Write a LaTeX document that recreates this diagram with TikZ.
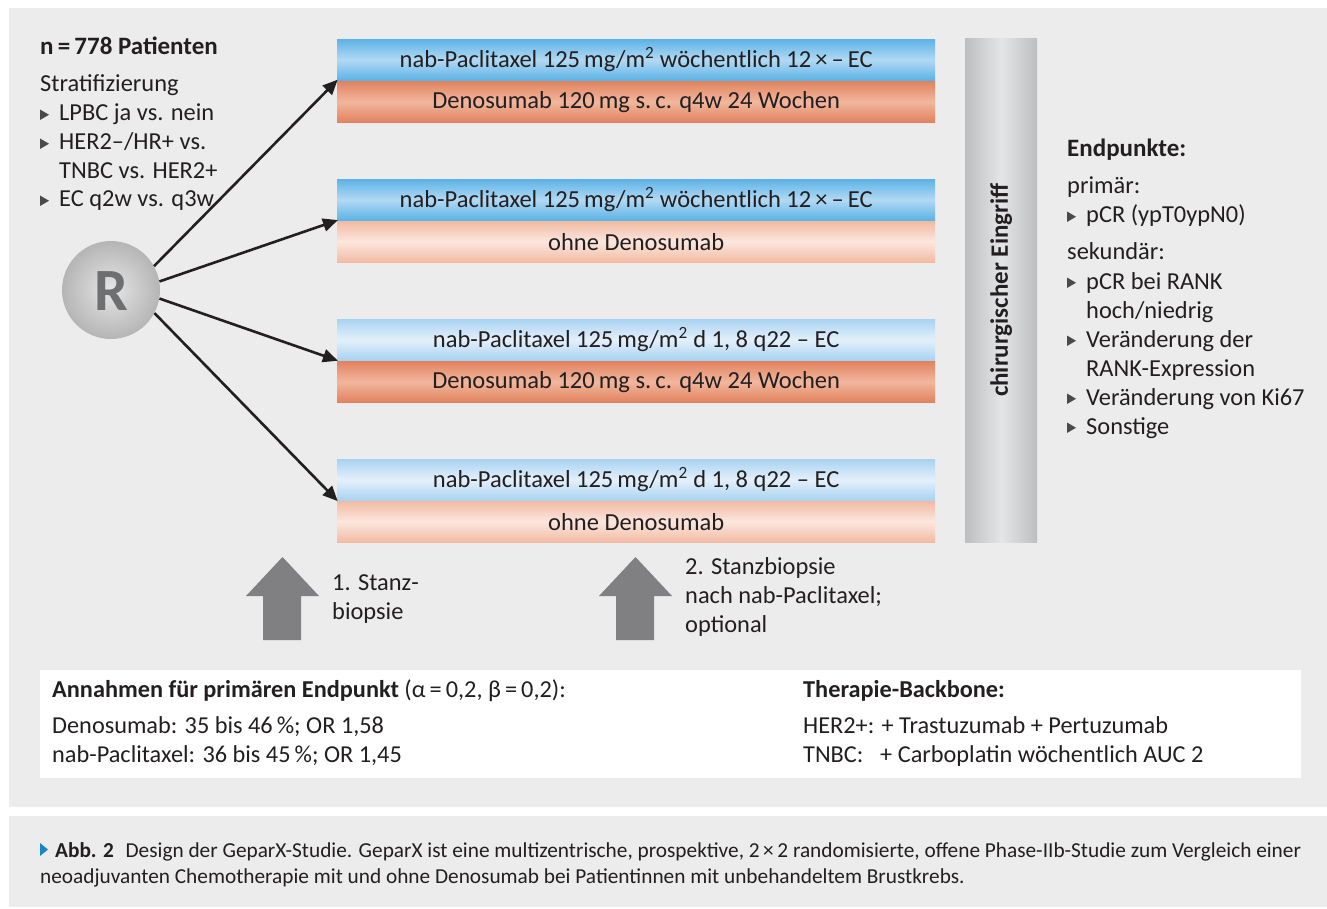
\documentclass[tikz,border=0pt]{standalone}
\usepackage{fontspec}
\setmainfont{Carlito}
\usetikzlibrary{arrows.meta}
\definecolor{bg}{HTML}{EBECEB}
\definecolor{txt}{HTML}{231F20}
\definecolor{bul}{HTML}{4A4A4C}
\definecolor{blueA}{HTML}{5CB3E7}
\definecolor{blueB}{HTML}{B2D9F3}
\definecolor{lblueA}{HTML}{A8D3F1}
\definecolor{lblueB}{HTML}{E4F0FB}
\definecolor{salA}{HTML}{E2825E}
\definecolor{salB}{HTML}{F1B79E}
\definecolor{lsalA}{HTML}{F2BAA2}
\definecolor{lsalB}{HTML}{FBE7DE}
\definecolor{pilA}{HTML}{BDBEC0}
\definecolor{pilB}{HTML}{E4E5E6}
\definecolor{agray}{HTML}{808083}
\definecolor{capblue}{HTML}{1A86C8}
\definecolor{rgray}{HTML}{6E6F71}
\newcommand\fsz[1]{\fontsize{#1}{#1}\selectfont}
\tikzset{
  bar/.style={minimum width=598pt, minimum height=41pt, anchor=north west, inner sep=0pt, font=\fsz{24.5}, text=txt},
  dblue/.style={bar, top color=blueA, bottom color=blueA, middle color=blueB},
  lblue/.style={bar, top color=lblueA, bottom color=lblueA, middle color=lblueB},
  dsal/.style={bar, top color=salA, bottom color=salA, middle color=salB},
  lsal/.style={bar, top color=lsalA, bottom color=lsalA, middle color=lsalB},
  conn/.style={line width=2.6pt, draw=txt, -{Triangle[length=15pt,width=13pt]}, shorten >=-1pt},
  tl/.style={anchor=base west, inner sep=0pt, font=\fsz{24.4}, text=txt},
  tlb/.style={tl, font=\bfseries\fsz{25}},
  bx/.style={anchor=base west, inner sep=0pt, font=\fsz{24.3}, text=txt},
  captxt/.style={anchor=base west, inner sep=0pt, font=\fsz{21.3}, text=txt},
}
\newcommand\bulmark[2]{\fill[bul] (#1,#2-11.5) -- (#1,#2-1) -- (#1+9,#2-6.25) -- cycle;}
\begin{document}
\begin{tikzpicture}[x=1pt,y=-1pt]
\useasboundingbox (0,0) rectangle (1327,909);
\fill[white] (0,0) rectangle (1327,909);
\fill[bg] (9,8) rectangle (1327,807);
\fill[bg] (9,816) rectangle (1327,907);
\fill[white] (40,670) rectangle (1301,778);

% treatment bars
\node[dblue] (b1) at (337,39) {nab-Paclitaxel 125\,mg/m\textsuperscript{2} wöchentlich 12\,×\,–\,EC};
\node[dsal]  (c1) at (337,81) {Denosumab 120\,mg s.\,c. q4w 24 Wochen};
\node[dblue] (b2) at (337,179) {nab-Paclitaxel 125\,mg/m\textsuperscript{2} wöchentlich 12\,×\,–\,EC};
\node[lsal]  (c2) at (337,221) {ohne Denosumab};
\node[lblue] (b3) at (337,319) {nab-Paclitaxel 125\,mg/m\textsuperscript{2} d 1, 8 q22 – EC};
\node[dsal]  (c3) at (337,361) {Denosumab 120\,mg s.\,c. q4w 24 Wochen};
\node[lblue] (b4) at (337,459) {nab-Paclitaxel 125\,mg/m\textsuperscript{2} d 1, 8 q22 – EC};
\node[lsal]  (c4) at (337,501) {ohne Denosumab};

% surgery pillar
\node[minimum width=72pt, minimum height=504pt, anchor=north west, inner sep=0pt,
      left color=pilA, right color=pilA, middle color=pilB] (pil) at (965,38) {};
\node[rotate=90, font=\bfseries\fsz{25}, text=txt, inner sep=0pt] (chir) at (pil.center) {chirurgischer Eingriff};

% randomisation
\node[circle, minimum size=98pt, inner sep=0pt, inner color=gray!20, outer color=gray!58] (R) at (111,290) {};
\node[font=\bfseries\fsz{60}, text=rgray, inner sep=0pt] (Rl) at ([yshift=-1pt]R.center) {R};
\draw[conn] (R.29) -- (b1.south west);
\draw[conn] (R.10) -- (b2.south west);
\draw[conn] (R.-10) -- (b3.south west);
\draw[conn] (R.-28) -- (b4.south west);

% left text
\node[tlb] (np) at (40,55) {n\,=\,778 Patienten};
\node[tl] (st) at (40,92) {Stratifizierung};
\bulmark{40}{121}\node[tl] (s1) at (59,121) {LPBC ja vs. nein};
\bulmark{40}{150}\node[tl] (s2) at (59,150) {HER2–/HR+ vs.};
\node[tl] (s2b) at (59,179) {TNBC vs. HER2+};
\bulmark{40}{207}\node[tl] (s3) at (59,207) {EC q2w vs. q3w};

% endpoints
\node[tlb] (ep) at (1067,157) {Endpunkte:};
\node[tl] (pr) at (1067,194) {primär:};
\bulmark{1067}{223}\node[tl] (e1) at (1086,223) {pCR (ypT0ypN0)};
\node[tl] (se) at (1067,260) {sekundär:};
\bulmark{1067}{289}\node[tl] (e2) at (1086,289) {pCR bei RANK};
\node[tl] (e2b) at (1086,318) {hoch/niedrig};
\bulmark{1067}{347}\node[tl] (e3) at (1086,347) {Veränderung der};
\node[tl] (e3b) at (1086,376) {RANK-Expression};
\bulmark{1067}{405}\node[tl] (e4) at (1086,405) {Veränderung von Ki67};
\bulmark{1067}{434}\node[tl] (e5) at (1086,434) {Sonstige};

% biopsy arrows
\fill[agray] (246,596) -- (282.5,557) -- (319,596) -- (301,596) -- (301,640) -- (263,640) -- (263,596) -- cycle;
\fill[agray] (599,596) -- (635.5,557) -- (672,596) -- (654,596) -- (654,640) -- (616,640) -- (616,596) -- cycle;
\node[tl] (bi1) at (332,590) {1. Stanz-};
\node[tl] (bi1b) at (332,619) {biopsie};
\node[tl] (bi2) at (685,574) {2. Stanzbiopsie};
\node[tl] (bi2b) at (685,603) {nach nab-Paclitaxel;};
\node[tl] (bi2c) at (685,632) {optional};

% assumptions box
\node[bx] (an) at (52,697) {\textbf{Annahmen für primären Endpunkt} (α\,=\,0,2, β\,=\,0,2):};
\node[bx] (an1) at (52,733) {Denosumab: 35 bis 46\,\%; OR 1,58};
\node[bx] (an2) at (52,762) {nab-Paclitaxel: 36 bis 45\,\%; OR 1,45};
\node[bx, font=\bfseries\fsz{24.3}] (tb) at (803,697) {Therapie-Backbone:};
\node[bx] (tb1) at (803,733) {HER2+: + Trastuzumab + Pertuzumab};
\node[bx] (tb2) at (803,762) {TNBC:};
\node[bx] (tb2b) at (880,762) {+ Carboplatin wöchentlich AUC 2};

% caption
\fill[capblue] (40,843) -- (40,856) -- (48,849.5) -- cycle;
\node[captxt] (cp1) at (55,857) {\textbf{Abb. 2}\hspace{0.55em}Design der GeparX-Studie. GeparX ist eine multizentrische, prospektive, 2\,×\,2 randomisierte, offene Phase-IIb-Studie zum Vergleich einer};
\node[captxt] (cp2) at (40,883) {neoadjuvanten Chemotherapie mit und ohne Denosumab bei Patientinnen mit unbehandeltem Brustkrebs.};
\end{tikzpicture}
\end{document}
